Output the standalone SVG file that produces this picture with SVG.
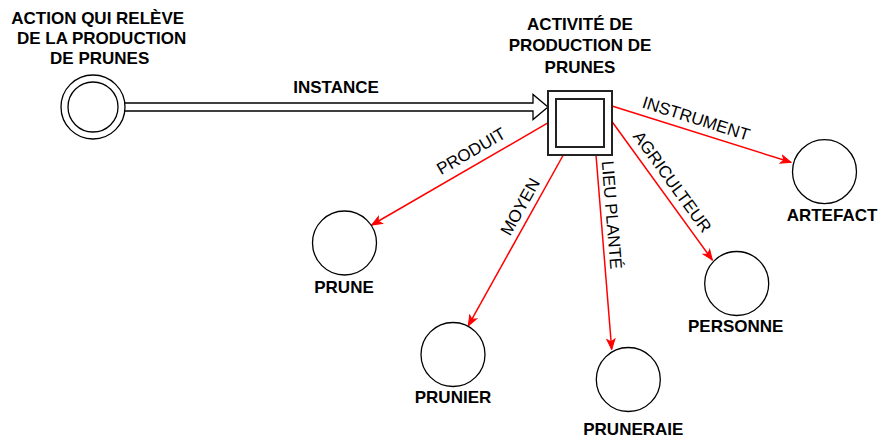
<svg xmlns="http://www.w3.org/2000/svg" width="880" height="441" viewBox="0 0 880 441">
<defs>
<style>
.lbl{font-family:"Liberation Sans",Arial,sans-serif;font-size:17px;font-weight:bold;fill:#000;text-anchor:middle}
.elbl{font-family:"Liberation Sans",Arial,sans-serif;font-size:17px;fill:#000;text-anchor:middle}
.node{fill:#fff;stroke:#000;stroke-width:1.3}
.edge{fill:none;stroke:#ff0000;stroke-width:1.5;marker-end:url(#arr)}
.box{fill:#fff;stroke:#222;stroke-width:2}
</style>
<marker id="arr" markerUnits="userSpaceOnUse" markerWidth="12" markerHeight="10" refX="11" refY="5" orient="auto" viewBox="0 0 12 10">
<path d="M1,1 L11,5 L1,9 L3.5,5 Z" fill="#ff0000" stroke="#ff0000" stroke-width="1"/>
</marker>
</defs>
<rect width="880" height="441" fill="#fff"/>

<g id="connectors">
<path id="instance-arrow" d="M125,103 L533,103 L533,94.5 L548,107 L533,119.5 L533,111 L125,111" fill="#fff" stroke="#000" stroke-width="1.3" stroke-linejoin="miter"/>
<text class="lbl" x="336" y="92.7">INSTANCE</text>
<line class="edge" x1="548.3" y1="122.7" x2="371.7" y2="225"/>
<line class="edge" x1="563.3" y1="155" x2="468.3" y2="325.7"/>
<line class="edge" x1="596" y1="155" x2="611.7" y2="349.3"/>
<line class="edge" x1="612.3" y1="122" x2="712.3" y2="260"/>
<line class="edge" x1="612" y1="106" x2="791" y2="162.3"/>
<text class="elbl" transform="translate(471,151) rotate(-30.1)" y="6">PRODUIT</text>
<text class="elbl" transform="translate(520,206.7) rotate(-60.9)" y="6">MOYEN</text>
<text class="elbl" transform="translate(612,215) rotate(85.4)" y="6">LIEU PLANTÉ</text>
<text class="elbl" transform="translate(672.5,181.7) rotate(54.1)" y="6">AGRICULTEUR</text>
<text class="elbl" transform="translate(696.2,118.3) rotate(17.5)" y="6">INSTRUMENT</text>
</g>

<g id="action">
<circle class="node" cx="93" cy="107" r="32"/>
<circle class="node" cx="93" cy="107" r="25"/>
<text class="lbl" x="97.7" y="24">ACTION QUI RELÈVE</text>
<text class="lbl" x="101.6" y="44">DE LA PRODUCTION</text>
<text class="lbl" x="99.7" y="64">DE PRUNES</text>
</g>

<g id="activite">
<rect class="box" x="548" y="91" width="64" height="64"/>
<rect class="box" x="556" y="99" width="48" height="48"/>
<text class="lbl" x="580" y="30.2">ACTIVITÉ DE</text>
<text class="lbl" x="580" y="51.4">PRODUCTION DE</text>
<text class="lbl" x="580" y="72.6">PRUNES</text>
</g>

<g id="prune">
<circle class="node" cx="344.5" cy="243" r="32"/>
<text class="lbl" x="344" y="292.7">PRUNE</text>
</g>

<g id="prunier">
<circle class="node" cx="453" cy="354.5" r="32"/>
<text class="lbl" x="453" y="403.3">PRUNIER</text>
</g>

<g id="pruneraie">
<circle class="node" cx="628.3" cy="379.5" r="32"/>
<text class="lbl" x="633.3" y="435">PRUNERAIE</text>
</g>

<g id="personne">
<circle class="node" cx="736.7" cy="283.5" r="32"/>
<text class="lbl" x="735.7" y="332.3">PERSONNE</text>
</g>

<g id="artefact">
<circle class="node" cx="824.5" cy="171.7" r="32"/>
<text class="lbl" x="832" y="220.7">ARTEFACT</text>
</g>
</svg>
